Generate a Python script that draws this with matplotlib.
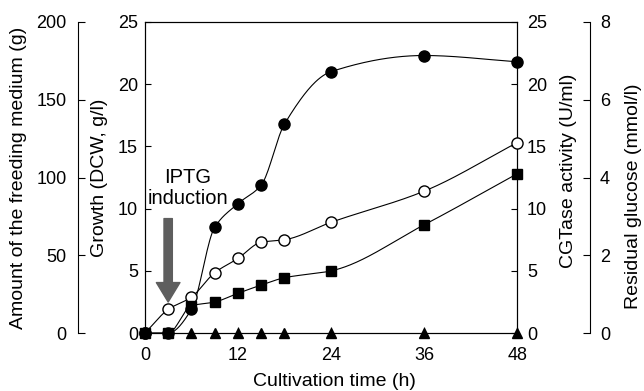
import numpy as np
import matplotlib
matplotlib.use('Agg')
import matplotlib.pyplot as plt

plt.rcParams['font.family'] = ['Liberation Sans', 'DejaVu Sans']
plt.rcParams['font.size'] = 13

time_h = [0, 3, 6, 9, 12, 15, 18, 24, 36, 48]
dcw = [0, 0, 1.9, 8.5, 10.4, 11.9, 16.8, 21.0, 22.3, 21.8]          # filled circles, g/l
cgtase = [0, 1.9, 2.9, 4.85, 6.0, 7.3, 7.5, 8.9, 11.4, 15.3]        # open circles, U/ml
feed = [0, 0, 17.6, 20.0, 25.6, 30.9, 35.6, 40.0, 69.6, 102.4]      # squares, g
glucose_t = [6, 9, 12, 15, 18, 24, 36, 48]
glucose = [0, 0, 0, 0, 0, 0, 0, 0]                                   # triangles, mmol/l


def smooth(x, y, n=300):
    # monotone cubic (pchip) curve through the points, only for drawing the line
    x = np.asarray(x, float)
    y = np.asarray(y, float)
    h = np.diff(x)
    d = np.diff(y) / h
    m = np.zeros_like(y)
    m[0], m[-1] = d[0], d[-1]
    for k in range(1, len(x) - 1):
        if d[k - 1] * d[k] > 0:
            w1 = 2 * h[k] + h[k - 1]
            w2 = h[k] + 2 * h[k - 1]
            m[k] = (w1 + w2) / (w1 / d[k - 1] + w2 / d[k])
    xs = np.linspace(x[0], x[-1], n)
    idx = np.clip(np.searchsorted(x, xs) - 1, 0, len(x) - 2)
    t = (xs - x[idx]) / h[idx]
    h00 = 2 * t**3 - 3 * t**2 + 1
    h10 = t**3 - 2 * t**2 + t
    h01 = -2 * t**3 + 3 * t**2
    h11 = t**3 - t**2
    ys = h00 * y[idx] + h10 * h[idx] * m[idx] + h01 * y[idx + 1] + h11 * h[idx] * m[idx + 1]
    return xs, ys


fig = plt.figure(figsize=(6.44, 3.91), dpi=100)
ax = fig.add_axes([0.225, 0.148, 0.578, 0.796])
ax_cg = ax.twinx()
ax_feed = ax.twinx()
ax_glu = ax.twinx()

lw = 0.8

# growth
ax.plot(*smooth(time_h, dcw), color='black', lw=lw, zorder=2)
ax.plot(time_h, dcw, 'o', color='black', ms=8, zorder=3, clip_on=False)
# CGTase
ax_cg.plot(*smooth(time_h, cgtase), color='black', lw=lw, zorder=2)
ax_cg.plot(time_h, cgtase, 'o', mfc='white', mec='black', mew=1, ms=8, zorder=3, clip_on=False)
# feeding medium
ax_feed.plot(*smooth(time_h, feed), color='black', lw=lw, zorder=2)
ax_feed.plot(time_h, feed, 's', color='black', ms=7, zorder=3, clip_on=False)
# residual glucose
ax_glu.plot(glucose_t, glucose, '^', color='black', ms=7.5, zorder=3, clip_on=False)

ax.set_xlim(0, 48)
ax.set_ylim(0, 25)
ax_cg.set_ylim(0, 25)
ax_feed.set_ylim(0, 200)
ax_glu.set_ylim(0, 8)

ax.set_xticks([0, 12, 24, 36, 48])
ax.set_yticks([0, 5, 10, 15, 20, 25])
ax_cg.set_yticks([0, 5, 10, 15, 20, 25])
ax_feed.set_yticks([0, 50, 100, 150, 200])
ax_glu.set_yticks([0, 2, 4, 6, 8])

ax.tick_params(axis='x', direction='in', length=4, width=0.8, pad=10)
ax.tick_params(axis='y', direction='in', length=4, width=0.8, pad=5)
ax_cg.tick_params(axis='y', direction='in', length=4, width=0.8, pad=7)

# outer left axis for feeding medium
ax_feed.spines['left'].set_position(('axes', -0.18))
ax_feed.spines['left'].set_visible(True)
ax_feed.yaxis.set_ticks_position('left')
ax_feed.yaxis.set_label_position('left')
for s in ['right', 'top', 'bottom']:
    ax_feed.spines[s].set_visible(False)
ax_feed.tick_params(axis='y', direction='in', length=5, width=0.8, pad=8)

# outer right axis for glucose
ax_glu.spines['right'].set_position(('axes', 1.196))
for s in ['left', 'top', 'bottom']:
    ax_glu.spines[s].set_visible(False)
ax_glu.tick_params(axis='y', direction='in', length=5, width=0.8, pad=7)

for a in [ax, ax_cg, ax_feed, ax_glu]:
    for s in a.spines.values():
        s.set_linewidth(0.8)

ax.set_xlabel('Cultivation time (h)', fontsize=14)
ax.xaxis.set_label_coords(0.51, -0.129)
ax.xaxis.label.set_va('top')
ax.set_ylabel('Growth (DCW, g/l)', fontsize=14)
ax.yaxis.set_label_coords(-0.0995, 0.5)
ax_cg.set_ylabel('CGTase activity (U/ml)', fontsize=14)
ax_cg.yaxis.set_label_coords(1.116, 0.52)
ax_feed.set_ylabel('Amount of the freeding medium (g)', fontsize=14)
ax_feed.yaxis.set_label_coords(-0.317, 0.5)
ax_glu.set_ylabel('Residual glucose (mmol/l)', fontsize=14)
ax_glu.yaxis.set_label_coords(1.29, 0.44)

ax.text(5.5, 12.5, 'IPTG', ha='center', va='center', fontsize=14.5)
ax.text(5.5, 10.8, 'induction', ha='center', va='center', fontsize=14.5)
ax.annotate('', xy=(3, 2.5), xytext=(3, 9.2),
            arrowprops=dict(arrowstyle='simple,head_length=0.7,head_width=0.85,tail_width=0.3',
                            color='#5e5e5e', mutation_scale=20, shrinkA=0, shrinkB=0))

fig.savefig('out.png', dpi=100)
